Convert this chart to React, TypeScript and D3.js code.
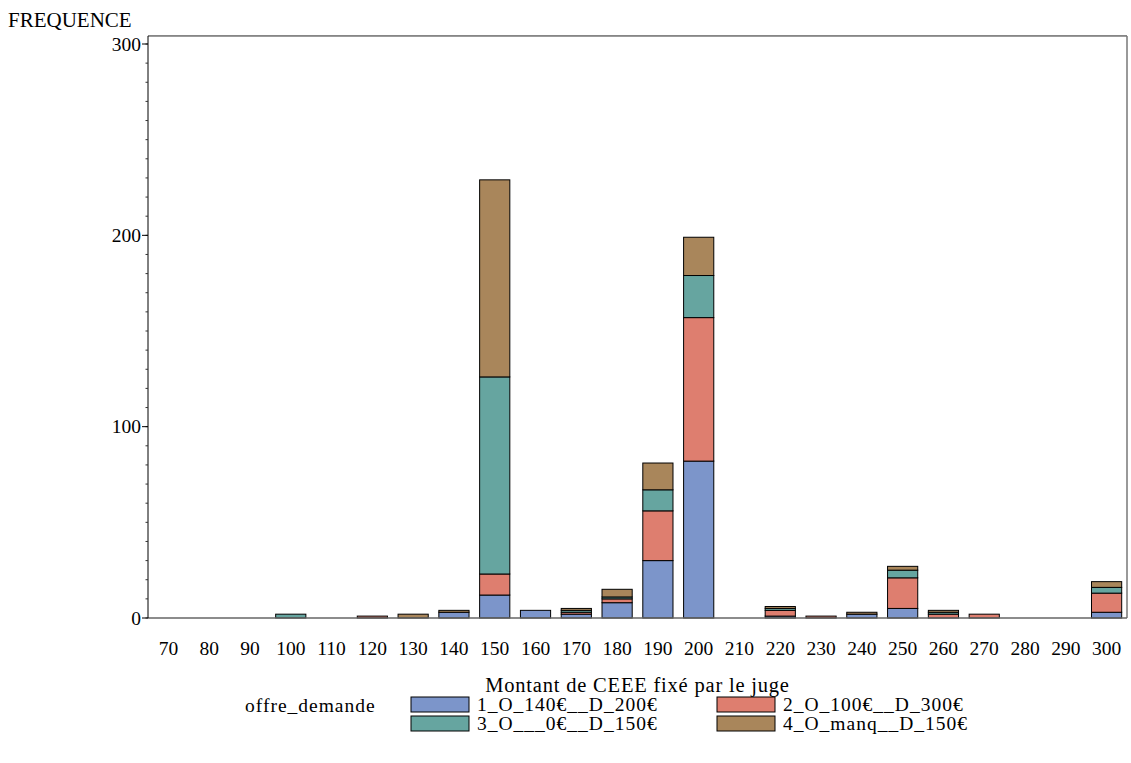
import React from "react";
import * as d3 from "d3";

const categories = [70, 80, 90, 100, 110, 120, 130, 140, 150, 160, 170, 180, 190, 200, 210, 220, 230, 240, 250, 260, 270, 280, 290, 300];
const seriesNames = ["1_O_140€__D_200€", "2_O_100€__D_300€", "3_O___0€__D_150€", "4_O_manq__D_150€"];
const s1 = [0, 0, 0, 0, 0, 0, 0, 3, 12, 4, 2, 8, 30, 82, 0, 1, 0, 2, 5, 0, 0, 0, 0, 3];
const s2 = [0, 0, 0, 0, 0, 1, 0, 0, 11, 0, 1, 2, 26, 75, 0, 3, 1, 0, 16, 2, 2, 0, 0, 10];
const s3 = [0, 0, 0, 2, 0, 0, 0, 0, 103, 0, 1, 1, 11, 22, 0, 1, 0, 0, 4, 1, 0, 0, 0, 3];
const s4 = [0, 0, 0, 0, 0, 0, 2, 1, 103, 0, 1, 4, 14, 20, 0, 1, 0, 1, 2, 1, 0, 0, 0, 3];
const colors = ["#7C95CA", "#DE7E6F", "#66A5A0", "#A9865B"];
const yTicks = [0, 100, 200, 300];
const yMinorTicks = d3.range(0, 301, 10);

const W = 1131;
const H = 763;
const left = 148;
const right = 1127;
const bottom = 618;
const y300 = 44;
const font = "'Liberation Serif', 'Times New Roman', serif";
const tickFs = 19.5;
const titleFs = 20.5;
const legFs = 19.5;

export default function App() {
  const x = d3.scaleBand<number>().domain(categories).range([left, right]).paddingInner(0.26).paddingOuter(0.13);
  const y = d3.scaleLinear().domain([0, 300]).range([bottom, y300]);
  const top = y(304.2);

  const rows = categories.map((c, i) => ({ cat: c, v: [s1[i], s2[i], s3[i], s4[i]] }));
  const stack = d3.stack<any>().keys([0, 1, 2, 3].map(String)).value((d: any, k: string) => d.v[+k]);
  const layers = stack(rows);

  const legendItems = [
    { name: seriesNames[0], color: colors[0], lx: 411, ly: 697 },
    { name: seriesNames[1], color: colors[1], lx: 717, ly: 697 },
    { name: seriesNames[2], color: colors[2], lx: 411, ly: 716 },
    { name: seriesNames[3], color: colors[3], lx: 717, ly: 716 },
  ];

  return (
    <svg width={W} height={H} style={{ position: "absolute", left: 0, top: 0, background: "#fff" }} fontFamily={font}>
      <rect x={0} y={0} width={W} height={H} fill="#fff" />
      {/* frame */}
      <line x1={left} x2={right} y1={top} y2={top} stroke="#222" strokeWidth={1} />
      <line x1={right} x2={right} y1={top} y2={bottom} stroke="#777" strokeWidth={1.5} />
      {/* bars */}
      {layers.map((layer, li) =>
        layer.map((d, i) => {
          const h = y(d[0]) - y(d[1]);
          if (h <= 0) return null;
          return (
            <rect
              key={li + "-" + i}
              x={x(categories[i])!}
              y={y(d[1])}
              width={x.bandwidth()}
              height={h}
              fill={colors[li]}
              stroke="#000"
              strokeWidth={1}
            />
          );
        })
      )}
      {/* axes */}
      <line x1={left} x2={right} y1={bottom} y2={bottom} stroke="#666" strokeWidth={1.5} />
      <line x1={left} x2={left} y1={top} y2={bottom} stroke="#000" strokeWidth={1} />
      {yMinorTicks.map((t) => (
        <line key={"m" + t} x1={left - 2.5} x2={left} y1={y(t)} y2={y(t)} stroke="#333" strokeWidth={1} />
      ))}
      {yTicks.map((t) => (
        <g key={"t" + t}>
          <line x1={left - 6} x2={left} y1={y(t)} y2={y(t)} stroke="#000" strokeWidth={1} />
          <text x={left - 7} y={y(t)} dy="0.35em" textAnchor="end" fontSize={tickFs}>
            {t}
          </text>
        </g>
      ))}
      {categories.map((c) => (
        <text key={"x" + c} x={x(c)! + x.bandwidth() / 2} y={655} textAnchor="middle" fontSize={tickFs}>
          {c}
        </text>
      ))}
      <text x={8} y={27} fontSize={21}>
        FREQUENCE
      </text>
      <text x={(left + right) / 2} y={692} textAnchor="middle" fontSize={titleFs} letterSpacing={0.8}>
        Montant de CEEE fixé par le juge
      </text>
      {/* legend */}
      <text x={245} y={712} fontSize={legFs} letterSpacing={1}>
        offre_demande
      </text>
      {legendItems.map((it) => (
        <g key={it.name}>
          <rect x={it.lx} y={it.ly} width={58} height={15} fill={it.color} stroke="#000" strokeWidth={1} />
          <text x={it.lx + 66} y={it.ly + 14} fontSize={legFs} letterSpacing={1}>
            {it.name}
          </text>
        </g>
      ))}
    </svg>
  );
}
